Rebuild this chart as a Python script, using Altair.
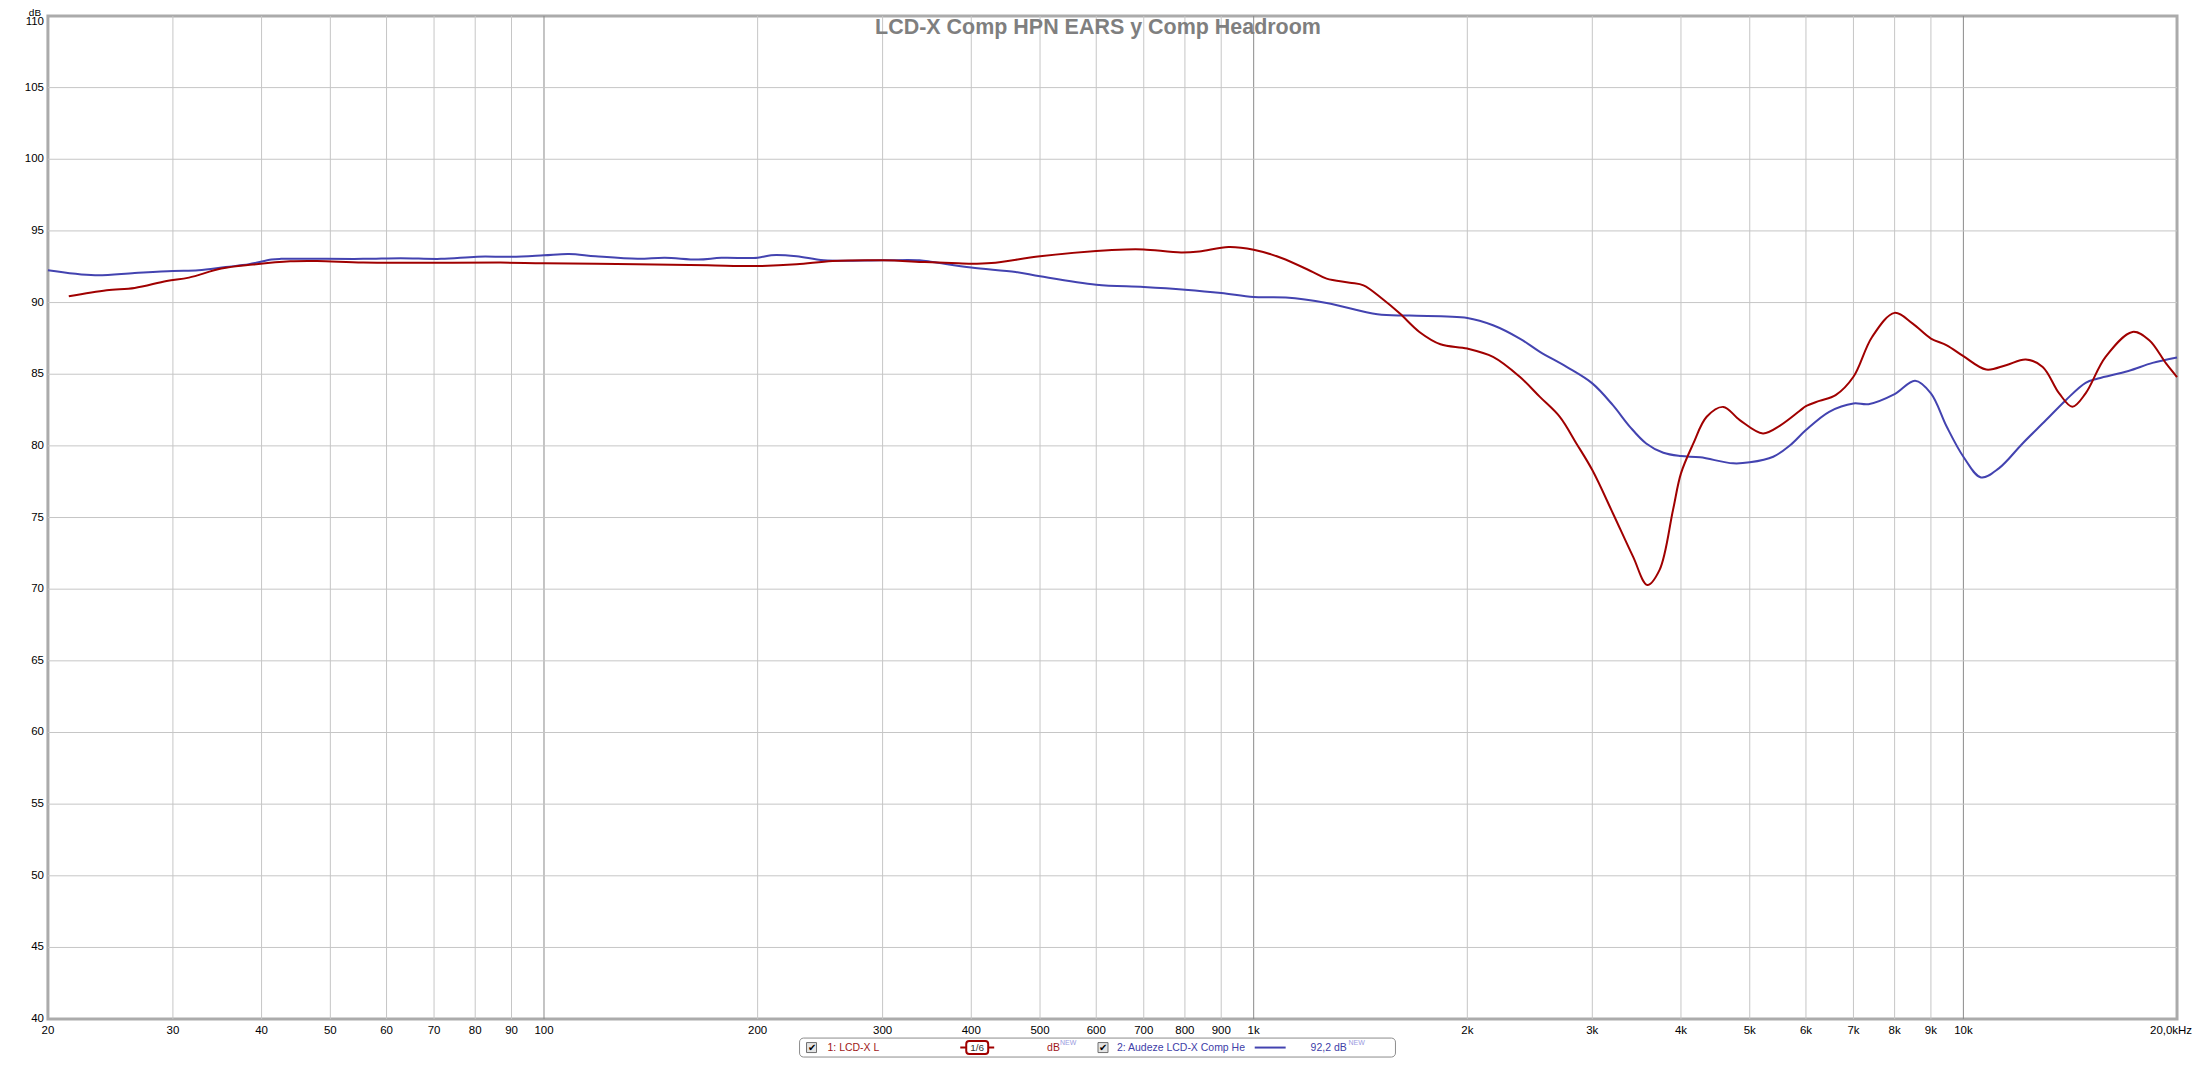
import altair as alt
import pandas as pd

# ---------------- data ----------------
title_text = "LCD-X Comp HPN EARS y Comp Headroom"

red_name = "1: LCD-X L"
blue_name = "2: Audeze LCD-X Comp He"
red_level = "dB"
blue_level = "92,2 dB"
new_tag = "NEW"
smoothing = "1/6"

red_f = [21.4, 24.2, 26.5, 29.4, 31.6, 35.1, 38.9, 43.9, 47.9, 55.6, 70, 86.8, 100,
         135, 170, 200, 227, 255, 300, 344, 375, 400, 427, 500, 600, 660, 700, 790,
         838, 922, 1000, 1092, 1212, 1267, 1366, 1428, 1516, 1607, 1712, 1833, 2000,
         2174, 2371, 2531, 2700, 2849, 3000, 3207, 3424, 3586, 3732, 3898, 4000, 4164,
         4348, 4589, 4841, 5219, 5510, 5882, 6000, 6268, 6607, 7000, 7436, 8000, 8484,
         9000, 9475, 10000, 10768, 11483, 12245, 12935, 13646, 14242, 14866, 15862,
         17309, 18278, 19300, 20000]
red_db = [90.44, 90.86, 91.02, 91.51, 91.74, 92.37, 92.65, 92.88, 92.90, 92.79, 92.78, 92.79, 92.74,
          92.67, 92.60, 92.55, 92.67, 92.90, 92.95, 92.83, 92.76, 92.71, 92.76, 93.23, 93.60, 93.71, 93.71, 93.50,
          93.57, 93.88, 93.69, 93.13, 92.13, 91.67, 91.39, 91.20, 90.28, 89.23, 87.95, 87.09, 86.79,
          86.21, 84.82, 83.42, 82.03, 80.17, 78.31, 75.30, 72.27, 70.30, 71.35, 75.53, 78.08, 80.17,
          82.03, 82.72, 81.80, 80.87, 81.40, 82.45, 82.77, 83.14, 83.54, 84.82, 87.60, 89.28, 88.53,
          87.49, 87.02, 86.26, 85.33, 85.63, 86.03, 85.51, 83.66, 82.73, 83.66, 86.21,
          87.95, 87.37, 85.75, 84.80]

blue_f = [20, 23.3, 26.5, 30, 32.6, 35.6, 38.4, 41.3, 42.6, 55.6, 62.8, 71.6, 80.5, 90, 100,
          108.4, 118.2, 135.5, 148, 164.9, 177.8, 200, 209, 227, 248, 300, 338, 353, 400,
          462, 500, 600, 700, 800, 900, 1000, 1110, 1267, 1494, 1658, 2000, 2174, 2371,
          2531, 2760, 3000, 3207, 3390, 3573, 3778, 4000, 4257, 4738, 5000, 5396, 5706,
          6000, 6470, 7000, 7350, 8000, 8550, 9000, 9475, 10000, 10588, 11218, 12117,
          13076, 13940, 14866, 15478, 17082, 18475, 20000]
blue_db = [92.25, 91.90, 92.06, 92.20, 92.25, 92.48, 92.67, 93.00, 93.05, 93.05, 93.10, 93.05, 93.20, 93.20, 93.30,
           93.39, 93.23, 93.05, 93.12, 93.00, 93.12, 93.13, 93.30, 93.23, 92.95, 92.95, 92.95, 92.83, 92.44,
           92.13, 91.83, 91.25, 91.09, 90.90, 90.67, 90.39, 90.35, 89.97, 89.18, 89.09, 88.93, 88.42, 87.49,
           86.56, 85.51, 84.36, 82.84, 81.33, 80.17, 79.52, 79.29, 79.20, 78.78, 78.85, 79.24, 80.06,
           81.10, 82.38, 82.96, 82.91, 83.61, 84.54, 83.66, 81.33, 79.24, 77.80, 78.43, 80.17,
           81.80, 83.19, 84.40, 84.70, 85.23, 85.79, 86.17]

x_ticks = [20, 30, 40, 50, 60, 70, 80, 90, 100, 200, 300, 400, 500, 600, 700, 800, 900,
           1000, 2000, 3000, 4000, 5000, 6000, 7000, 8000, 9000, 10000, 20000]
x_labels = ["20", "30", "40", "50", "60", "70", "80", "90", "100", "200", "300", "400", "500",
            "600", "700", "800", "900", "1k", "2k", "3k", "4k", "5k", "6k", "7k", "8k", "9k",
            "10k", "20,0kHz"]
decade_lines = [100, 1000, 10000]
y_ticks = [40, 45, 50, 55, 60, 65, 70, 75, 80, 85, 90, 95, 100, 105, 110]
y_unit = "dB"

# ---------------- style ----------------
W, H = 2133, 1005
FONT = "Liberation Sans"
RED = "#A00000"
BLUE = "#4343B0"
RED_TXT = "#A01818"
BLUE_TXT = "#4040A8"

xs = alt.Scale(type="log", domain=[20, 20000], nice=False)
ys = alt.Scale(domain=[40, 110], nice=False, zero=False)
X = alt.X("f:Q", scale=xs, axis=None)
Y = alt.Y("db:Q", scale=ys, axis=None)

red_df = pd.DataFrame({"f": red_f, "db": red_db})
blue_df = pd.DataFrame({"f": blue_f, "db": blue_db})
xt_df = pd.DataFrame({"f": x_ticks, "label": x_labels})
minor_df = pd.DataFrame({"f": [t for t in x_ticks if t not in decade_lines and 20 < t < 20000]})
major_df = pd.DataFrame({"f": decade_lines})
yg_df = pd.DataFrame({"db": [v for v in y_ticks if 40 < v < 110]})
yt_df = pd.DataFrame({"db": y_ticks, "label": [str(v) for v in y_ticks]})

vgrid = alt.Chart(minor_df).mark_rule(color="#C6C6C6", strokeWidth=1).encode(x=X)
vmajor = alt.Chart(major_df).mark_rule(color="#8A8A8A", strokeWidth=1).encode(x=X)
hgrid = alt.Chart(yg_df).mark_rule(color="#C6C6C6", strokeWidth=1).encode(y=Y)

blue_line = alt.Chart(blue_df).mark_line(color=BLUE, strokeWidth=2, interpolate="catmull-rom").encode(x=X, y=Y)
red_line = alt.Chart(red_df).mark_line(color=RED, strokeWidth=2, interpolate="catmull-rom").encode(x=X, y=Y)

xlab = alt.Chart(xt_df).transform_filter("datum.f < 20000").mark_text(
    font=FONT, fontSize=11.5, baseline="top", align="center", color="#000000"
).encode(x=X, y=alt.value(H + 6), text="label:N")
xlab_last = alt.Chart(xt_df).transform_filter("datum.f >= 20000").mark_text(
    font=FONT, fontSize=11.5, baseline="top", align="center", color="#000000", dx=-6
).encode(x=X, y=alt.value(H + 6), text="label:N")

ylab = alt.Chart(yt_df).transform_filter("datum.db < 110").mark_text(
    font=FONT, fontSize=11.5, baseline="middle", align="right", color="#000000"
).encode(y=Y, x=alt.value(-4), text="label:N")
ylab_top = alt.Chart(yt_df).transform_filter("datum.db >= 110").mark_text(
    font=FONT, fontSize=11.5, baseline="top", align="right", color="#000000"
).encode(y=Y, x=alt.value(-4), text="label:N")

base = alt.Chart(pd.DataFrame({"k": [0]}))


def txt(x, y, s, **kw):
    return base.mark_text(text=s, font=FONT, **kw).encode(x=alt.value(x), y=alt.value(y))


def box(x1, x2, y1, y2, **kw):
    return base.mark_rect(**kw).encode(x=alt.value(x1), x2=alt.value(x2), y=alt.value(y1), y2=alt.value(y2))


def hline(x1, x2, y, **kw):
    return base.mark_rule(**kw).encode(x=alt.value(x1), x2=alt.value(x2), y=alt.value(y))


unit = txt(-13, 0, y_unit, fontSize=10, align="center", baseline="alphabetic", color="#000000")
title = txt(1052, 18, title_text, fontSize=21.5, fontWeight="bold", align="center",
            baseline="alphabetic", color="#7F7F7F")

LY = 1033.5  # legend centre line (relative to plot top)
legend = [
    box(753, 1350, 1024, 1043, fill="white", stroke="#8C8C8C", strokeWidth=1, cornerRadius=4),
    box(760, 770, LY - 5, LY + 5, fill="#E4E4E4", stroke="#6E6E6E", strokeWidth=1),
    txt(765, LY, "✔", fontSize=10, align="center", baseline="middle", color="#000000"),
    txt(781, LY, red_name, fontSize=10.5, align="left", baseline="middle", color=RED_TXT),
    hline(914, 948, LY, color=RED, strokeWidth=2),
    box(920, 942, LY - 6.5, LY + 6.5, fill="white", stroke=RED, strokeWidth=2, cornerRadius=3),
    txt(931, LY, smoothing, fontSize=10, align="center", baseline="middle", color="#333333"),
    txt(1001, LY, red_level, fontSize=10.5, align="left", baseline="middle", color=RED_TXT),
    txt(1014, LY - 4.5, new_tag, fontSize=7, align="left", baseline="middle", color="#9A9AE0"),
    box(1052, 1062, LY - 5, LY + 5, fill="#E4E4E4", stroke="#6E6E6E", strokeWidth=1),
    txt(1057, LY, "✔", fontSize=10, align="center", baseline="middle", color="#000000"),
    txt(1071, LY, blue_name, fontSize=10.5, align="left", baseline="middle", color=BLUE_TXT),
    hline(1209, 1240, LY, color=BLUE, strokeWidth=2),
    txt(1265, LY, blue_level, fontSize=10.5, align="left", baseline="middle", color=BLUE_TXT),
    txt(1303, LY - 4.5, new_tag, fontSize=7, align="left", baseline="middle", color="#9A9AE0"),
]

chart = alt.layer(
    vgrid, vmajor, hgrid, blue_line, red_line, title,
    xlab, xlab_last, ylab, ylab_top, unit, *legend
).properties(
    width=W, height=H,
    padding={"left": 40, "right": 15, "top": 7, "bottom": 39},
    autosize=alt.AutoSizeParams(type="none"),
    background="white",
).configure_view(stroke="#ABABAB", strokeWidth=3)

chart.save("out.html", embed_options={"renderer": "svg", "actions": False})
